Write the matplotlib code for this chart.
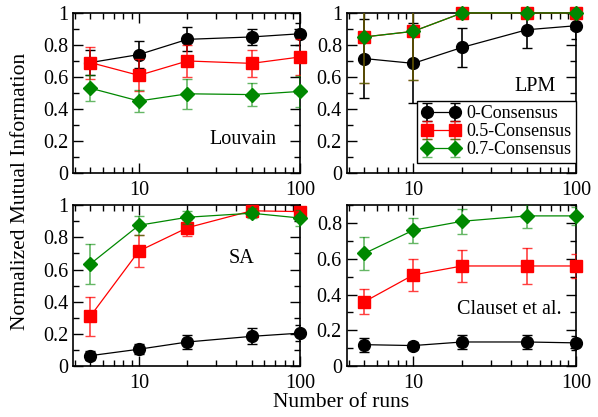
import numpy as np
import matplotlib.pyplot as plt
from matplotlib.ticker import MultipleLocator, FixedLocator, NullFormatter

plt.rcParams['font.family'] = ['Liberation Serif', 'DejaVu Serif']

runs = [5, 10, 20, 50, 100]
labels = ['0-Consensus', '0.5-Consensus', '0.7-Consensus']

# Louvain
louv_0 = [0.69, 0.74, 0.835, 0.85, 0.87]
louv_0_err = [0.08, 0.085, 0.075, 0.05, 0.07]
louv_05 = [0.69, 0.61, 0.70, 0.685, 0.725]
louv_05_err = [0.10, 0.10, 0.10, 0.085, 0.11]
louv_07 = [0.53, 0.45, 0.495, 0.49, 0.51]
louv_07_err = [0.08, 0.07, 0.095, 0.07, 0.095]

# LPM
lpm_0 = [0.715, 0.685, 0.785, 0.895, 0.92]
lpm_0_err = [0.245, 0.25, 0.12, 0.115, 0.08]
lpm_05 = [0.85, 0.885, 1.0, 1.0, 1.0]
lpm_05_err = [0.29, 0.305, 0.0, 0.0, 0.0]
lpm_07 = [0.85, 0.885, 1.0, 1.0, 1.0]
lpm_07_err = [0.29, 0.305, 0.0, 0.0, 0.0]

# SA
sa_0 = [0.065, 0.105, 0.15, 0.185, 0.205]
sa_0_err = [0.03, 0.03, 0.045, 0.05, 0.05]
sa_05 = [0.31, 0.715, 0.86, 0.965, 0.96]
sa_05_err = [0.12, 0.10, 0.05, 0.03, 0.03]
sa_07 = [0.635, 0.875, 0.925, 0.95, 0.92]
sa_07_err = [0.125, 0.06, 0.04, 0.03, 0.05]

# Clauset et al.
cl_0 = [0.12, 0.115, 0.135, 0.135, 0.13]
cl_0_err = [0.04, 0.02, 0.04, 0.04, 0.04]
cl_05 = [0.36, 0.51, 0.56, 0.56, 0.56]
cl_05_err = [0.07, 0.09, 0.09, 0.10, 0.065]
cl_07 = [0.63, 0.76, 0.81, 0.84, 0.84]
cl_07_err = [0.09, 0.07, 0.07, 0.065, 0.05]

panels = [
    ('Louvain', (louv_0, louv_05, louv_07), (louv_0_err, louv_05_err, louv_07_err), (0.75, 0.21), 1.0),
    ('LPM', (lpm_0, lpm_05, lpm_07), (lpm_0_err, lpm_05_err, lpm_07_err), (0.82, 0.54), 1.0),
    ('SA', (sa_0, sa_05, sa_07), (sa_0_err, sa_05_err, sa_07_err), (0.74, 0.67), 1.0),
    ('Clauset et al.', (cl_0, cl_05, cl_07), (cl_0_err, cl_05_err, cl_07_err), (0.71, 0.35), 0.9),
]

colors = ['black', '#ff0000', '#008800']
bar_alpha = [1.0, 0.75, 0.6]
markers = ['o', 's', 'D']
msizes = [8.5, 8, 7]

fig = plt.figure(figsize=(5.98, 4.17), dpi=100)
rects = [
    [0.122, 0.585, 0.380, 0.384],
    [0.580, 0.585, 0.383, 0.384],
    [0.122, 0.122, 0.380, 0.386],
    [0.580, 0.122, 0.383, 0.386],
]

for i, (name, ys, errs, pos, ytop) in enumerate(panels):
    ax = fig.add_axes(rects[i])
    for k in range(3):
        eb = ax.errorbar(runs, ys[k], yerr=errs[k], color=colors[k], marker=markers[k],
                         markersize=msizes[k], lw=0.9, elinewidth=1.2, capsize=3.5,
                         capthick=1.0, label=labels[k], zorder=3 + k)
        # markers may poke out past the frame, error bars stay inside
        eb.lines[0].set_clip_on(False)
        for c in eb.lines[1] + tuple(eb.lines[2]):
            c.set_alpha(bar_alpha[k])
    ax.set_xscale('log')
    ax.set_xlim(3.9, 100)
    ax.set_ylim(0, ytop)
    ax.xaxis.set_major_locator(FixedLocator([10, 100]))
    ax.xaxis.set_major_formatter(plt.FixedFormatter(['10', '100']))
    ax.xaxis.set_minor_locator(FixedLocator([4, 5, 6, 7, 8, 9, 20, 30, 40, 50, 60, 70, 80, 90]))
    ax.xaxis.set_minor_formatter(NullFormatter())
    ax.yaxis.set_major_locator(MultipleLocator(0.2))
    ax.yaxis.set_minor_locator(MultipleLocator(0.1))
    ax.yaxis.set_major_formatter(plt.FuncFormatter(lambda v, p: '%g' % round(v, 2)))
    ax.tick_params(which='both', direction='in', top=True, right=True, labelsize=14.5, width=1.0)
    ax.tick_params(which='major', length=7)
    ax.tick_params(which='minor', length=4)
    ax.tick_params(axis='x', pad=6)
    for s in ax.spines.values():
        s.set_linewidth(1.2)
    ax.text(pos[0], pos[1], name, transform=ax.transAxes, ha='center', va='center', fontsize=14.5)
    if name == 'LPM':
        leg = ax.legend(loc='lower right', numpoints=2, fontsize=13, frameon=True, fancybox=False,
                        edgecolor='black', framealpha=1, borderpad=0.25, labelspacing=0.05,
                        handlelength=2.2, handletextpad=0.3, borderaxespad=0.0,
                        bbox_to_anchor=(1.0, 0.065))
        leg.get_frame().set_linewidth(1.0)

fig.text(0.57, 0.035, 'Number of runs', ha='center', va='center', fontsize=15.5)
fig.text(0.035, 0.54, 'Normalized Mutual Information', ha='center', va='center',
         rotation=90, fontsize=15.5)

fig.savefig('out.png', dpi=100)
